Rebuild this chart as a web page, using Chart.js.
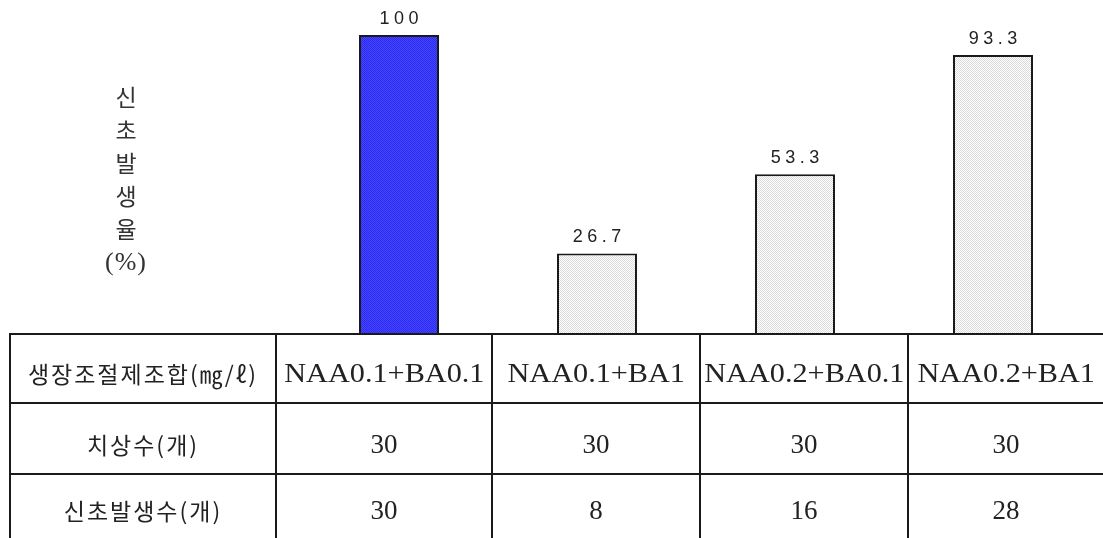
<!DOCTYPE html>
<html>
<head>
<meta charset="utf-8">
<script src="https://cdn.jsdelivr.net/npm/chart.js@4"></script>
<style>
  html, body { margin: 0; padding: 0; background: #fff; overflow: hidden; }
  #wrap { position: relative; width: 1103px; height: 538px; overflow: hidden; }
  #grafico { position: absolute; left: 0; top: 0; }
  .ln { position: absolute; background: #1a1a1a; }
  .cell { position: absolute; height: 40px; line-height: 40px; text-align: center; white-space: nowrap; color: #222; }
  .cell span { display: inline-block; }
  .num { font-family: "Liberation Serif", serif; font-size: 27px; }
  .lab { font-family: "Liberation Serif", serif; font-size: 27px; }
  .lab span { transform: scaleX(1.12); }
  .kor { font-family: "Noto Sans CJK KR", sans-serif; font-size: 23px; letter-spacing: 2px; }
  #ylab { position: absolute; left: 96px; width: 60px; text-align: center; color: #333; }
  #ylab div { height: 33px; line-height: 33px; font-family: "Noto Sans CJK KR", sans-serif; font-size: 23px; }
  #ylab div.pc { font-family: "Liberation Serif", serif; font-size: 26px; letter-spacing: 1px; }
</style>
</head>
<body>
<div id="wrap">
  <canvas id="grafico" width="1103" height="538"></canvas>
  <div id="ylab" style="top:80px"></div>
</div>
<script>
// 생장조절제 조합별 신초 발생율
var categorias = ["NAA0.1+BA0.1", "NAA0.1+BA1", "NAA0.2+BA0.1", "NAA0.2+BA1"];
var taxa = [100, 26.7, 53.3, 93.3];
var chisang = [30, 30, 30, 30];
var sinchoSu = [30, 8, 16, 28];
var linhas = ["생장조절제조합(㎎/ℓ)", "치상수(개)", "신초발생수(개)"];
var yTitulo = ["신", "초", "발", "생", "율", "(%)"];

// dotted fills like the original hatch
function padrao(c1, c2) {
    var p = document.createElement("canvas");
    p.width = 2; p.height = 2;
    var g = p.getContext("2d");
    g.fillStyle = c1; g.fillRect(0, 0, 2, 2);
    g.fillStyle = c2; g.fillRect(0, 0, 1, 1); g.fillRect(1, 1, 1, 1);
    return document.getElementById("grafico").getContext("2d").createPattern(p, "repeat");
}
var azul = padrao("#4646ff", "#2a2af0");
var cinza = padrao("#ffffff", "#dadada");

var rotulos = {
    id: "rotulos",
    afterDatasetsDraw: function (chart) {
        var ctx = chart.ctx;
        var meta = chart.getDatasetMeta(0);
        ctx.save();
        ctx.font = '18px "Liberation Sans", sans-serif';
        ctx.fillStyle = "#222";
        ctx.textBaseline = "alphabetic";
        var esp = 4.5;
        meta.data.forEach(function (bar, i) {
            var txt = String(chart.data.datasets[0].data[i]);
            var chars = txt.split("");
            var w = 0;
            chars.forEach(function (ch) { w += ctx.measureText(ch).width; });
            w += esp * (chars.length - 1);
            var x = bar.x - w / 2;
            chars.forEach(function (ch) {
                ctx.fillText(ch, x, bar.y - 11);
                x += ctx.measureText(ch).width + esp;
            });
        });
        ctx.restore();
    }
};

new Chart(document.getElementById("grafico"), {
    type: 'bar',
    data: {
        labels: categorias,
        datasets: [
            {
                label: "신초발생율",
                data: taxa,
                backgroundColor: [azul, cinza, cinza, cinza],
                borderColor: "#1a1a1a",
                borderWidth: 2,
                barPercentage: 0.404,
                categoryPercentage: 1
            }
        ]
    },
    options: {
        responsive: false,
        animation: false,
        layout: { padding: { left: 300, right: 11, top: 35, bottom: 205 } },
        scales: {
            x: { display: false },
            y: { display: false, min: 0, max: 100 }
        },
        plugins: {
            legend: { display: false },
            tooltip: { enabled: false }
        }
    },
    plugins: [rotulos]
});

// y title, one syllable per line
var yl = document.getElementById("ylab");
yTitulo.forEach(function (s) {
    var d = document.createElement("div");
    d.textContent = s;
    if (s === "(%)") d.className = "pc";
    yl.appendChild(d);
});

// table under the bars
var wrap = document.getElementById("wrap");
var colX = [10, 276, 492, 700, 908, 1104];
var rowY = [334, 403, 474];
var centroY = [373, 444, 510];
rowY.forEach(function (y) {
    var l = document.createElement("div");
    l.className = "ln";
    l.style.cssText = "left:10px;top:" + (y - 1) + "px;width:1100px;height:2px";
    wrap.appendChild(l);
});
colX.slice(0, 5).forEach(function (x) {
    var l = document.createElement("div");
    l.className = "ln";
    l.style.cssText = "left:" + (x - 1) + "px;top:333px;width:2px;height:210px";
    wrap.appendChild(l);
});
var tabela = [
    [linhas[0]].concat(categorias),
    [linhas[1]].concat(chisang),
    [linhas[2]].concat(sinchoSu)
];
tabela.forEach(function (row, r) {
    row.forEach(function (v, c) {
        var d = document.createElement("div");
        d.className = "cell " + (c === 0 ? "kor" : (r === 0 ? "lab" : "num"));
        d.style.left = colX[c] + "px";
        d.style.width = (colX[c + 1] - colX[c]) + "px";
        d.style.top = (centroY[r] - 20) + "px";
        var s = document.createElement("span");
        s.textContent = v;
        d.appendChild(s);
        wrap.appendChild(d);
    });
});
</script>
</body>
</html>
